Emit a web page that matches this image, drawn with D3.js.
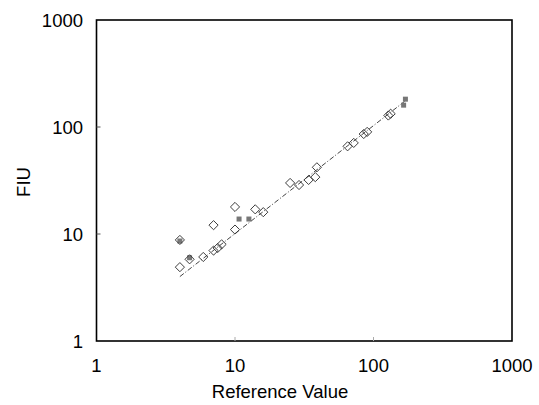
<!DOCTYPE html>
<html>
<head>
<meta charset="utf-8">
<script src="https://cdn.jsdelivr.net/npm/d3@7"></script>
<style>
  body { margin: 0; background: #fff; }
  text { font-family: "Liberation Sans", Arial, sans-serif; }
</style>
</head>
<body>
<div id="chart"></div>
<script>
// reference value vs measured FIU (open diamonds)
const refX = [4, 4, 4.7, 5.9, 7, 7, 7.5, 8, 10, 10, 14, 16, 25, 29, 34, 38, 39, 65, 72, 85, 90, 128, 133];
const fiuY = [8.8, 4.9, 5.8, 6.1, 12.1, 7, 7.4, 8, 17.9, 11, 17, 16, 30, 28.7, 32, 34, 42, 66, 71, 86, 90, 128, 133];

// second series, small grey squares
const greyX = [4, 4.7, 10.7, 12.6, 165, 170];
const greyY = [8.6, 6, 13.8, 13.8, 160, 182];

// fitted line end points
const fitX = [4, 170];
const fitY = [4.0, 176];

const tickVals = [1, 10, 100, 1000];

const width = 539, height = 405;
const margin = {top: 20, right: 27, bottom: 64, left: 96.5};

const svg = d3.select("#chart").append("svg")
  .attr("width", width)
  .attr("height", height);

const x = d3.scaleLog().domain([1, 1000]).range([margin.left, width - margin.right]);
const y = d3.scaleLog().domain([1, 1000]).range([height - margin.bottom, margin.top]);

// fit line (dashed)
svg.append("path")
  .datum(fitX.map((d, i) => [d, fitY[i]]))
  .attr("fill", "none")
  .attr("stroke", "#444")
  .attr("stroke-width", 1)
  .attr("stroke-dasharray", "5,2,1,2")
  .attr("d", d3.line().x(d => x(d[0])).y(d => y(d[1])));

// grey squares
svg.selectAll(".sq")
  .data(greyX.map((d, i) => [d, greyY[i]]))
  .join("rect")
  .attr("class", "sq")
  .attr("x", d => x(d[0]) - 2.5)
  .attr("y", d => y(d[1]) - 2.5)
  .attr("width", 5)
  .attr("height", 5)
  .attr("fill", "#777");

// open diamonds
const diamond = d3.symbol().type(d3.symbolSquare).size(42);
svg.selectAll(".dia")
  .data(refX.map((d, i) => [d, fiuY[i]]))
  .join("path")
  .attr("class", "dia")
  .attr("d", diamond)
  .attr("transform", d => `translate(${x(d[0])},${y(d[1])}) rotate(45)`)
  .attr("fill", "none")
  .attr("stroke", "#333")
  .attr("stroke-width", 0.9);

// frame
svg.append("rect")
  .attr("x", margin.left)
  .attr("y", margin.top)
  .attr("width", width - margin.right - margin.left)
  .attr("height", height - margin.bottom - margin.top)
  .attr("fill", "none")
  .attr("stroke", "#000")
  .attr("stroke-width", 1.6);

// small inward ticks
svg.selectAll(".xt")
  .data([10, 100])
  .join("line")
  .attr("x1", d => x(d)).attr("x2", d => x(d))
  .attr("y1", y(1)).attr("y2", y(1) - 4)
  .attr("stroke", "#aaa");
svg.selectAll(".yt")
  .data([10, 100])
  .join("line")
  .attr("y1", d => y(d)).attr("y2", d => y(d))
  .attr("x1", x(1)).attr("x2", x(1) + 4)
  .attr("stroke", "#555");

// tick labels
svg.selectAll(".xl")
  .data(tickVals)
  .join("text")
  .attr("x", d => x(d))
  .attr("y", 372)
  .attr("text-anchor", "middle")
  .attr("font-size", 18.5)
  .text(d => d);

svg.selectAll(".yl")
  .data(tickVals)
  .join("text")
  .attr("x", 83)
  .attr("y", d => y(d) + 6.5)
  .attr("text-anchor", "end")
  .attr("font-size", 18.5)
  .text(d => d);

// axis titles
svg.append("text")
  .attr("x", 280)
  .attr("y", 398)
  .attr("text-anchor", "middle")
  .attr("font-size", 18.5)
  .text("Reference Value");

svg.append("text")
  .attr("transform", "translate(30,182) rotate(-90)")
  .attr("text-anchor", "middle")
  .attr("font-size", 18.5)
  .text("FIU");
</script>
</body>
</html>
